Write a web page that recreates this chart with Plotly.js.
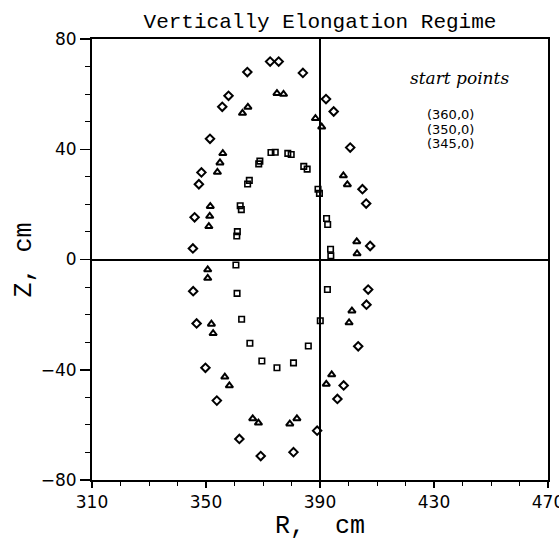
<!DOCTYPE html>
<html>
<head>
<meta charset="utf-8">
<script src="https://cdn.plot.ly/plotly-3.0.1.min.js"></script>
<style>html,body{margin:0;padding:0;background:#fff;}#chart{width:559px;height:546px;}</style>
</head>
<body>
<div id="chart"></div>
<script>
// start point (360,0) -> squares
const sqR = [372.8, 374.3, 378.7, 379.9, 384.3, 385.5, 368.5, 368.9, 364.6, 365.2, 389.3, 389.8, 362.0, 362.4, 361.0, 360.8, 392.3, 392.7, 393.7, 393.8, 360.5, 360.9, 392.6, 362.5, 390.1, 365.4, 385.9, 369.6, 374.9, 380.7];
const sqZ = [38.8, 38.9, 38.5, 38.1, 33.8, 32.8, 34.7, 35.7, 27.4, 28.7, 25.5, 24.0, 19.5, 18.1, 10.1, 8.5, 14.9, 12.7, 3.7, 1.3, -2.0, -12.3, -10.9, -21.7, -22.2, -30.4, -31.4, -36.8, -39.3, -37.5];
// start point (350,0) -> triangles
const triR = [374.9, 377.2, 364.7, 362.8, 388.4, 390.6, 355.9, 354.9, 354.0, 398.2, 399.6, 351.5, 351.3, 351.0, 402.9, 403.0, 350.6, 350.6, 401.2, 400.2, 351.9, 352.5, 356.6, 358.2, 394.1, 392.2, 366.4, 368.4, 379.4, 381.9];
const triZ = [60.3, 60.0, 55.3, 53.1, 51.2, 48.1, 38.5, 35.1, 31.7, 30.4, 27.2, 19.3, 15.7, 12.0, 6.5, 2.1, -3.7, -6.8, -18.6, -22.9, -23.4, -26.8, -42.6, -45.8, -41.8, -45.2, -57.7, -59.3, -59.6, -57.7];
// start point (345,0) -> diamonds
const diaR = [372.5, 375.5, 364.5, 384.0, 357.9, 355.7, 392.1, 394.8, 351.4, 400.6, 348.4, 347.5, 404.9, 406.2, 346.0, 345.4, 407.6, 345.5, 406.9, 406.3, 346.7, 403.4, 349.8, 398.3, 396.1, 353.8, 389.0, 361.7, 369.2, 380.7];
const diaZ = [71.8, 71.8, 68.0, 67.7, 59.4, 55.4, 58.2, 53.7, 43.8, 40.6, 31.6, 27.3, 25.5, 20.3, 15.3, 4.0, 4.9, -11.5, -10.9, -16.4, -23.2, -31.5, -39.3, -45.7, -50.6, -51.2, -62.1, -65.1, -71.3, -69.9];

const startLabels = ["(360,0)", "(350,0)", "(345,0)"];
const xTickVals = [310, 350, 390, 430, 470];
const yTickVals = [-80, -40, 0, 40, 80];
const refR = 390;

const mk = (sym, size, w) => ({symbol: sym, size: size, color: 'black', line: {color: 'black', width: w}});

const traces = [
  {x: diaR, y: diaZ, mode: 'markers', type: 'scatter', marker: mk('diamond-open', 6.5, 2)},
  {x: triR, y: triZ, mode: 'markers', type: 'scatter', marker: mk('triangle-up-open', 6.5, 2)},
  {x: sqR, y: sqZ, mode: 'markers', type: 'scatter', marker: mk('square-open', 5.5, 1.6)}
];

const tickFont = {family: 'DejaVu Sans', size: 17, color: 'black'};
const serif = 'Liberation Mono';

const annotations = [
  {text: 'start points', x: 438.8, y: 66.0, xref: 'x', yref: 'y', showarrow: false,
   font: {family: 'DejaVu Serif', size: 17, style: 'italic', color: 'black'}}
];
const lineZ = [52.6, 47.3, 42.0];
startLabels.forEach((t, i) => annotations.push({text: t, x: 435.7, y: lineZ[i], xref: 'x', yref: 'y',
  showarrow: false, font: {family: 'DejaVu Sans', size: 13, color: 'black'}}));
annotations.push({text: 'R,&nbsp; cm', xref: 'paper', yref: 'paper', x: 0.5, y: -0.105, yanchor: 'middle',
  showarrow: false, font: {family: serif, size: 25, color: 'black'}});
annotations.push({text: 'Z, cm', xref: 'paper', yref: 'paper', x: -0.147, y: 0.5, xanchor: 'center', yanchor: 'middle',
  textangle: -90, showarrow: false, font: {family: serif, size: 25, color: 'black'}});

const layout = {
  width: 559, height: 546,
  margin: {l: 92, r: 11, t: 39, b: 66},
  paper_bgcolor: 'white', plot_bgcolor: 'white',
  showlegend: false,
  title: {text: 'Vertically Elongation Regime', x: 0.5, xref: 'paper', y: 1 - 21/546, yref: 'container',
          yanchor: 'middle', font: {family: serif, size: 21, color: 'black'}},
  xaxis: {range: [310, 470], tickvals: xTickVals, ticks: 'outside', ticklen: 6, tickwidth: 1.5, tickcolor: 'black',
          ticklabeloverflow: 'allow', ticklabelstandoff: 0,
          showline: true, linewidth: 2, linecolor: 'black', mirror: true, showgrid: false, zeroline: false,
          tickfont: tickFont, minor: {dtick: 10, tick0: 310, ticks: 'outside', ticklen: 4, tickwidth: 1, tickcolor: 'black', showgrid: false}},
  yaxis: {range: [-80, 80], tickvals: yTickVals, ticks: 'outside', ticklen: 10, tickwidth: 1.5, tickcolor: 'black',
          showline: true, linewidth: 2, linecolor: 'black', mirror: true, showgrid: false,
          zeroline: true, zerolinewidth: 2, zerolinecolor: 'black',
          tickfont: tickFont, minor: {dtick: 10, tick0: -80, ticks: 'outside', ticklen: 5, tickwidth: 1, tickcolor: 'black', showgrid: false}},
  shapes: [{type: 'line', xref: 'x', yref: 'paper', x0: refR, x1: refR, y0: 0, y1: 1, line: {color: 'black', width: 2}}],
  annotations: annotations
};

Plotly.newPlot('chart', traces, layout, {displayModeBar: false, staticPlot: true});
</script>
</body>
</html>
